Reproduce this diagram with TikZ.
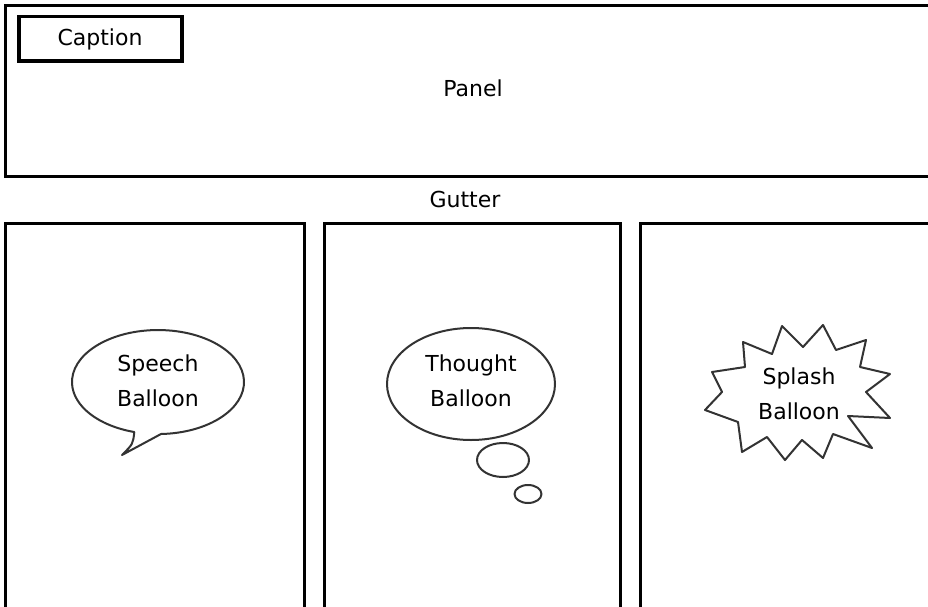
\documentclass[tikz,border=0pt]{standalone}
\usepackage{fontspec}
\setmainfont{DejaVu Sans}
\usetikzlibrary{shapes.geometric}
\tikzset{
  panelbox/.style={draw=black, line width=3pt},
  capbox/.style={draw=black, line width=3.2pt},
  balloon/.style={draw=black!80, line width=2pt, line join=round, fill=white},
  lbl/.style={font=\fontsize{22}{35}\selectfont, text=black, align=center, inner sep=0pt}
}
\begin{document}
\begin{tikzpicture}[x=1pt, y=-1pt]
\useasboundingbox (0,0) rectangle (928,607);
\fill[white] (0,0) rectangle (928,607);
\begin{scope}
\clip (0,0) rectangle (928,607);
% top panel
\draw[panelbox] (5,6) rectangle (940,176);
% caption box
\draw[capbox] (19,16.5) rectangle (182,61);
% bottom panels
\draw[panelbox] (5,223.5) rectangle (304.5,620);
\draw[panelbox] (324,223.5) rectangle (620,620);
\draw[panelbox] (640,223.5) rectangle (940,620);
\end{scope}
\node[lbl] (caption) at (100,39) {Caption};
\node[lbl] (panel) at (473,88) {Panel};
\node[lbl] (gutter) at (465,199) {Gutter};
% speech balloon
\draw[balloon] (161,434) arc[start angle=272, end angle=614, x radius=86pt, y radius=52pt]
  .. controls (133,444) .. (122,455) -- cycle;
\node[lbl] (speech) at (158,381) {Speech\\Balloon};
% thought balloon
\draw[balloon] (471,384) ellipse [x radius=84pt, y radius=56pt];
\draw[balloon] (503,460) ellipse [x radius=26pt, y radius=17pt];
\draw[balloon] (528,494) ellipse [x radius=13.5pt, y radius=9pt];
\node[lbl] (thought) at (471,381) {Thought\\Balloon};
% splash balloon
\draw[balloon] (743,342) -- (772,354) -- (782,326) -- (803,347) -- (823,325) -- (836,350)
  -- (866,340) -- (860,367) -- (890,374) -- (866,392) -- (890,418) -- (848,416)
  -- (872,448) -- (833,434) -- (823,458) -- (802,440) -- (785,460) -- (767,437)
  -- (742,452) -- (738,422) -- (705,410) -- (722,392) -- (712,372) -- (745,367) -- cycle;
\node[lbl] (splash) at (799,394) {Splash\\Balloon};
\end{tikzpicture}
\end{document}
